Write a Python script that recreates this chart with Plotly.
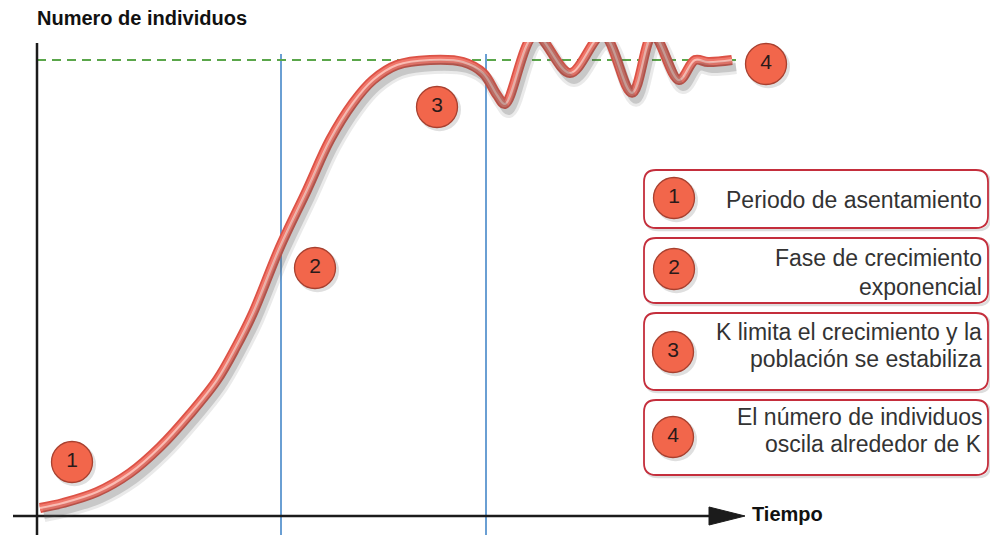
import plotly.graph_objects as go

# ---------------- data ----------------
tiempo = [0.6, 5.2, 12.0, 18.6, 24.6, 30.6, 36.0, 39.8, 43.2, 48.6, 54.0, 58.6, 63.2, 67.2,
          72.0, 78.6, 85.2, 89.2, 92.0, 93.6, 99.6, 106.6, 113.2, 119.0, 123.2, 128.4,
          131.6, 134.2, 139.0]
individuos = [1.75, 2.85, 5.26, 9.43, 15.13, 22.37, 29.82, 37.06, 44.52, 58.99, 71.49, 82.46,
              90.57, 95.61, 98.9, 100.0, 99.56, 97.15, 92.32, 90.35, 105.5, 97.15, 105.5,
              92.8, 105.5, 95.6, 100.0, 99.56, 100.0]
K = 100
limites_fase = [48.8, 89.8]
fase_ids = ["1", "2", "3", "4"]
fase_textos = [
    ["Periodo de asentamiento"],
    ["Fase de crecimiento", "exponencial"],
    ["K limita el crecimiento y la", "población se estabiliza"],
    ["El número de individuos", "oscila alrededor de K"],
]
titulo_y = "Numero de individuos"
titulo_x = "Tiempo"

# ---------------- layout helpers (pixel -> data) ----------------
W, H = 990, 535
TOP = 42
SX = 5.0      # px per time unit
SY = 4.56     # px per individual unit
X0PX, Y0PX = 37, 516
xr = [(0 - X0PX) / SX, (W - X0PX) / SX]
yr = [-(H - Y0PX) / SY, (Y0PX - TOP) / SY]


def tx(p):
    return (p - X0PX) / SX


def ny(p):
    return (Y0PX - p) / SY


fig = go.Figure()

spl = dict(shape="spline", smoothing=1.0)
# shadow of the curve (same data, drawn on slightly shifted axes)
fig.add_trace(go.Scatter(x=tiempo, y=individuos, mode="lines", xaxis="x2", yaxis="y2",
                         line=dict(color="rgba(90,90,90,0.13)", width=14, **spl),
                         hoverinfo="skip", showlegend=False))
fig.add_trace(go.Scatter(x=tiempo, y=individuos, mode="lines", xaxis="x2", yaxis="y2",
                         line=dict(color="rgba(80,80,80,0.22)", width=8, **spl),
                         hoverinfo="skip", showlegend=False))
# the red tube
fig.add_trace(go.Scatter(x=tiempo, y=individuos, mode="lines",
                         line=dict(color="#dc5246", width=10, **spl),
                         hoverinfo="skip", showlegend=False))
fig.add_trace(go.Scatter(x=tiempo, y=individuos, mode="lines",
                         line=dict(color="#f0766a", width=6.5, **spl),
                         hoverinfo="skip", showlegend=False))
fig.add_trace(go.Scatter(x=tiempo, y=individuos, mode="lines",
                         line=dict(color="#fbbcb3", width=2.2, **spl),
                         hoverinfo="skip", showlegend=False))

# numbered circles on the chart and in the legend
circ_x = [tx(72), tx(315), tx(437), tx(766), tx(674), tx(674), tx(673), tx(673)]
circ_y = [ny(462), ny(268), ny(107), ny(64), ny(198), ny(269), ny(352), ny(437)]
circ_t = fase_ids + fase_ids
fig.add_trace(go.Scatter(x=[v + 0.5 for v in circ_x], y=[v - 0.6 for v in circ_y], mode="markers",
                         marker=dict(size=43, color="rgba(80,80,80,0.18)", line=dict(width=0)),
                         hoverinfo="skip", showlegend=False, cliponaxis=False))
fig.add_trace(go.Scatter(x=circ_x, y=circ_y, mode="markers+text", text=circ_t,
                         textposition="middle center",
                         textfont=dict(family="Liberation Sans", size=21, color="#2a1a1a"),
                         marker=dict(size=41, color="#f2664b", line=dict(color="#a8402f", width=1.3)),
                         hoverinfo="skip", showlegend=False, cliponaxis=False))

shapes = []
# phase boundaries (blue)
for lx in limites_fase:
    shapes.append(dict(type="line", xref="x", yref="y", x0=lx, x1=lx, y0=yr[0], y1=ny(54),
                       line=dict(color="#6a9fd3", width=2), layer="below"))
# carrying capacity K (green dashed)
shapes.append(dict(type="line", xref="x", yref="y", x0=0, x1=tx(742), y0=K, y1=K,
                   line=dict(color="#5aa64a", width=2, dash="9px,6px"), layer="below"))
# axes
shapes.append(dict(type="line", xref="x", yref="y", x0=0, x1=0, y0=yr[0], y1=ny(43),
                   line=dict(color="#1b1b1b", width=2.5), layer="below"))
shapes.append(dict(type="line", xref="x", yref="y", x0=tx(13), x1=tx(715), y0=0, y1=0,
                   line=dict(color="#1b1b1b", width=2.5), layer="below"))
shapes.append(dict(type="path", xref="x", yref="y",
                   path=f"M {tx(709)},{9/SY} L {tx(745)},0 L {tx(709)},{-9/SY} Z",
                   fillcolor="#1b1b1b", line=dict(color="#1b1b1b", width=1), layer="below"))


def rrect(x0, x1, y0, y1, r=12):
    rx, ry = r / SX, r / SY
    return (f"M {x0+rx},{y1} L {x1-rx},{y1} Q {x1},{y1} {x1},{y1-ry} L {x1},{y0+ry} "
            f"Q {x1},{y0} {x1-rx},{y0} L {x0+rx},{y0} Q {x0},{y0} {x0},{y0+ry} "
            f"L {x0},{y1-ry} Q {x0},{y1} {x0+rx},{y1} Z")


boxes_px = [(170, 228), (238, 303), (313, 390), (400, 475)]
for (top, bot) in boxes_px:
    shapes.append(dict(type="path", xref="x", yref="y",
                       path=rrect(tx(646), tx(990), ny(bot + 2), ny(top + 2)),
                       line=dict(color="rgba(120,120,120,0.25)", width=2.5), layer="below"))
    shapes.append(dict(type="path", xref="x", yref="y",
                       path=rrect(tx(644), tx(988), ny(bot), ny(top)),
                       fillcolor="white", line=dict(color="#c42e3c", width=1.8), layer="below"))

annotations = []
line_px = [[200], [258, 287], [332, 359], [417, 444]]
for textos, ys in zip(fase_textos, line_px):
    for t, yp in zip(textos, ys):
        annotations.append(dict(x=tx(984), y=ny(yp), xref="x", yref="y", text=t, showarrow=False,
                                xanchor="right", yanchor="middle",
                                font=dict(family="Liberation Sans", size=23, color="#333333")))
annotations.append(dict(x=35 / W, y=(H - 18) / (H - TOP), xref="paper", yref="paper",
                        text=f"<b>{titulo_y}</b>",
                        showarrow=False, xanchor="left", yanchor="middle",
                        font=dict(family="Liberation Sans", size=20, color="#111")))
annotations.append(dict(x=tx(750), y=ny(514), xref="x", yref="y", text=f"<b>{titulo_x}</b>",
                        showarrow=False, xanchor="left", yanchor="middle",
                        font=dict(family="Liberation Sans", size=20, color="#111")))

ax_common = dict(visible=False, showgrid=False, zeroline=False, fixedrange=True)
fig.update_layout(
    width=W, height=H,
    margin=dict(l=0, r=0, t=TOP, b=0, pad=0),
    paper_bgcolor="white", plot_bgcolor="white",
    xaxis=dict(range=xr, **ax_common),
    yaxis=dict(range=yr, **ax_common),
    xaxis2=dict(range=[xr[0] - 4 / SX, xr[1] - 4 / SX], overlaying="x", **ax_common),
    yaxis2=dict(range=[yr[0] + 7 / SY, yr[1] + 7 / SY], overlaying="y", **ax_common),
    shapes=shapes, annotations=annotations, showlegend=False,
)

fig.write_html("out.html", config={"displayModeBar": False},
               post_script="document.body.style.margin='0';")
